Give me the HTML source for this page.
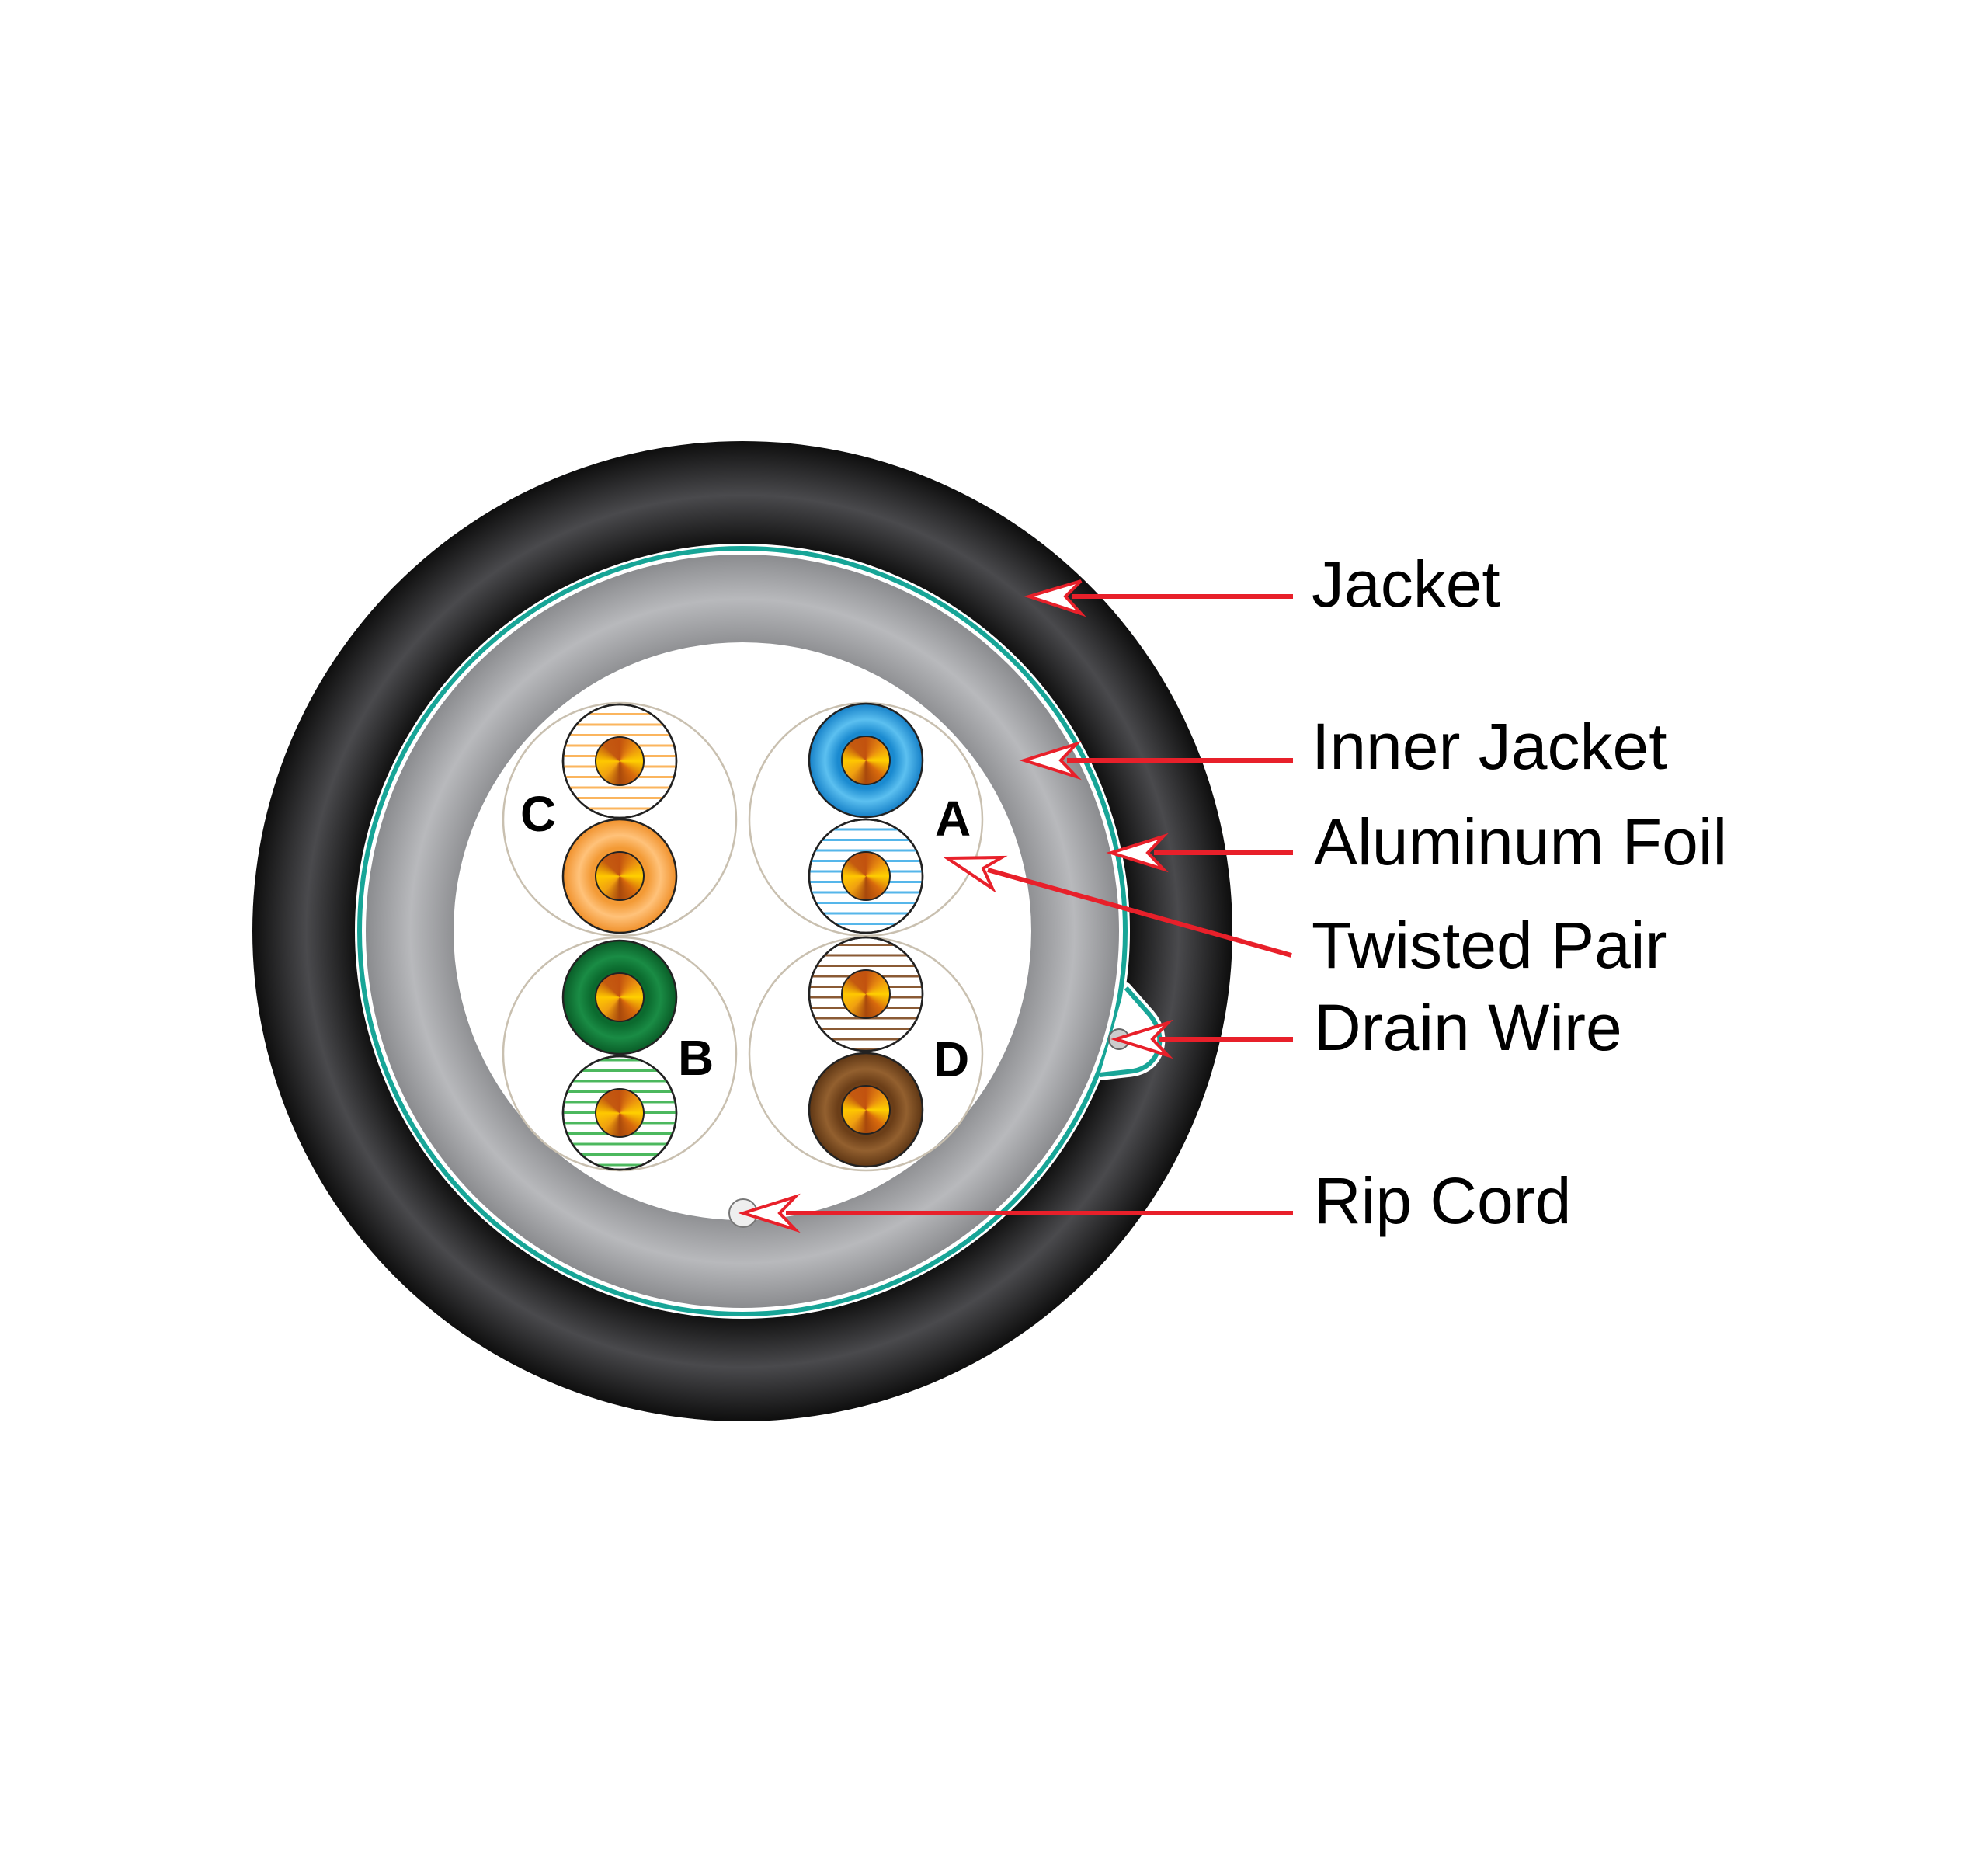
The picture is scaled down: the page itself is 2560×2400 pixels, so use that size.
<!DOCTYPE html>
<html><head><meta charset="utf-8"><style>
html,body{margin:0;padding:0;background:#fff;}
.wrap{position:relative;width:2560px;height:2400px;overflow:hidden;}
.core{position:absolute;width:64px;height:64px;border-radius:50%;border:2px solid #222;box-sizing:border-box;
background:conic-gradient(from 0deg,#c2520f,#e88a10,#ffd000,#d86a0c,#a8480c,#f0a010,#ffc800,#c45a10,#c2520f);}
.lbl{position:absolute;font-family:"Liberation Sans",sans-serif;font-size:84px;color:#000;white-space:nowrap;line-height:1;}
</style></head><body><div class="wrap">
<svg width="2560" height="2400" viewBox="0 0 2560 2400" style="position:absolute;left:0;top:0">
<defs>
<radialGradient id="blk" gradientUnits="userSpaceOnUse" cx="956" cy="1199" r="631">
<stop offset="0.79" stop-color="#111"/><stop offset="0.89" stop-color="#4a4a4d"/><stop offset="1" stop-color="#0e0e0e"/>
</radialGradient>
<radialGradient id="gry" gradientUnits="userSpaceOnUse" cx="956" cy="1199" r="486">
<stop offset="0.76" stop-color="#8e8f92"/><stop offset="0.88" stop-color="#b8b9bc"/><stop offset="1" stop-color="#8a8b8e"/>
</radialGradient>
<radialGradient id="og" gradientUnits="userSpaceOnUse" cx="0" cy="0" r="73"><stop offset="0.5" stop-color="#f39a35"/><stop offset="0.72" stop-color="#ffc27a"/><stop offset="1" stop-color="#f0902a"/></radialGradient>
<radialGradient id="bl" gradientUnits="userSpaceOnUse" cx="0" cy="0" r="73"><stop offset="0.5" stop-color="#1a8ad0"/><stop offset="0.72" stop-color="#5cc0f0"/><stop offset="1" stop-color="#1580c8"/></radialGradient>
<radialGradient id="gr" gradientUnits="userSpaceOnUse" cx="0" cy="0" r="73"><stop offset="0.5" stop-color="#0b6a2e"/><stop offset="0.72" stop-color="#1a8c45"/><stop offset="1" stop-color="#095c27"/></radialGradient>
<radialGradient id="br" gradientUnits="userSpaceOnUse" cx="0" cy="0" r="73"><stop offset="0.5" stop-color="#6b3e18"/><stop offset="0.72" stop-color="#93602f"/><stop offset="1" stop-color="#5e3614"/></radialGradient>
<pattern id="po" patternUnits="userSpaceOnUse" width="20" height="13.5"><rect width="20" height="3" fill="#fbb55e"/></pattern>
<pattern id="pb" patternUnits="userSpaceOnUse" width="20" height="13.5"><rect width="20" height="3" fill="#55b6ea"/></pattern>
<pattern id="pg" patternUnits="userSpaceOnUse" width="20" height="13.5"><rect width="20" height="3" fill="#4cb85e"/></pattern>
<pattern id="pn" patternUnits="userSpaceOnUse" width="20" height="13.5"><rect width="20" height="3" fill="#8a5a34"/></pattern>
</defs>
<circle cx="956" cy="1199" r="631" fill="url(#blk)"/>
<circle cx="956" cy="1199" r="499" fill="#fff"/>
<path d="M1450,1272 L1480,1306 Q1500,1330 1490,1356 Q1480,1378 1452,1380 L1416,1384 Z" fill="#fff" stroke="#fff" stroke-width="14" stroke-linejoin="round"/>
<circle cx="956" cy="1199" r="493" fill="none" stroke="#17a597" stroke-width="6"/>
<path d="M1450,1272 L1480,1306 Q1500,1330 1490,1356 Q1480,1378 1452,1380 L1416,1384" fill="#fff" stroke="#17a597" stroke-width="6" stroke-linejoin="round"/>
<circle cx="956" cy="1199" r="489" fill="#fff"/>
<path d="M1446,1280 L1474,1310 Q1490,1330 1482,1352 Q1474,1370 1450,1372 L1418,1378 Z" fill="#fff"/>
<circle cx="956" cy="1199" r="485" fill="url(#gry)"/>
<circle cx="956" cy="1199" r="372" fill="#fff"/>
<g fill="none" stroke="#c9c0b0" stroke-width="2.5">
<circle cx="798" cy="1055" r="150"/><circle cx="1115" cy="1055" r="150"/>
<circle cx="798" cy="1357" r="150"/><circle cx="1115" cy="1357" r="150"/>
</g>
<g stroke="#222" stroke-width="2.5">
<circle cx="798" cy="980" r="73" fill="#fff"/><circle cx="798" cy="980" r="73" fill="url(#po)"/>
<g transform="translate(798,1128)"><circle r="73" fill="url(#og)"/></g>
<g transform="translate(1115,979)"><circle r="73" fill="url(#bl)"/></g>
<circle cx="1115" cy="1128" r="73" fill="#fff"/><circle cx="1115" cy="1128" r="73" fill="url(#pb)"/>
<g transform="translate(798,1284)"><circle r="73" fill="url(#gr)"/></g>
<circle cx="798" cy="1433" r="73" fill="#fff"/><circle cx="798" cy="1433" r="73" fill="url(#pg)"/>
<circle cx="1115" cy="1280" r="73" fill="#fff"/><circle cx="1115" cy="1280" r="73" fill="url(#pn)"/>
<g transform="translate(1115,1429)"><circle r="73" fill="url(#br)"/></g>
</g>
<g font-family="Liberation Sans, sans-serif" font-weight="bold" font-size="64" fill="#000">
<text x="670" y="1070">C</text><text x="1204" y="1076">A</text>
<text x="873" y="1384">B</text><text x="1202" y="1386">D</text>
</g>
<circle cx="957" cy="1562" r="18" fill="#eee" stroke="#777" stroke-width="2"/>
<circle cx="1441" cy="1338" r="13" fill="#ccc" stroke="#666" stroke-width="2"/>
<g stroke="#e8202a" stroke-width="6" fill="none">
<line x1="1665" y1="768" x2="1380" y2="768"/>
<line x1="1665" y1="979" x2="1374" y2="979"/>
<line x1="1665" y1="1098" x2="1486" y2="1098"/>
<line x1="1663" y1="1230" x2="1272" y2="1120"/>
<line x1="1665" y1="1338" x2="1492" y2="1338"/>
<line x1="1665" y1="1562" x2="1012" y2="1562"/>
</g>
<g fill="#fff" stroke="#e8202a" stroke-width="4" stroke-linejoin="miter">
<path d="M1325,768 L1392,748 L1372,768 L1392,790 Z"/>
<path d="M1319,979 L1386,958 L1366,979 L1386,1000 Z"/>
<path d="M1431,1098 L1498,1077 L1478,1098 L1498,1119 Z"/>
<path d="M1220,1105 L1290,1104 L1266,1118 L1278,1144 Z"/>
<path d="M1437,1338 L1504,1317 L1484,1338 L1504,1359 Z"/>
<path d="M957,1562 L1024,1541 L1004,1562 L1024,1583 Z"/>
</g>
</svg>
<div class="core" style="left:766px;top:948px"></div>
<div class="core" style="left:766px;top:1096px"></div>
<div class="core" style="left:1083px;top:947px"></div>
<div class="core" style="left:1083px;top:1096px"></div>
<div class="core" style="left:766px;top:1252px"></div>
<div class="core" style="left:766px;top:1401px"></div>
<div class="core" style="left:1083px;top:1248px"></div>
<div class="core" style="left:1083px;top:1397px"></div>
<div class="lbl" style="left:1689px;top:710px">Jacket</div>
<div class="lbl" style="left:1689px;top:919px">Inner Jacket</div>
<div class="lbl" style="left:1692px;top:1042px">Aluminum Foil</div>
<div class="lbl" style="left:1689px;top:1175px">Twisted Pair</div>
<div class="lbl" style="left:1692px;top:1281px">Drain Wire</div>
<div class="lbl" style="left:1692px;top:1504px">Rip Cord</div>
</div></body></html>
